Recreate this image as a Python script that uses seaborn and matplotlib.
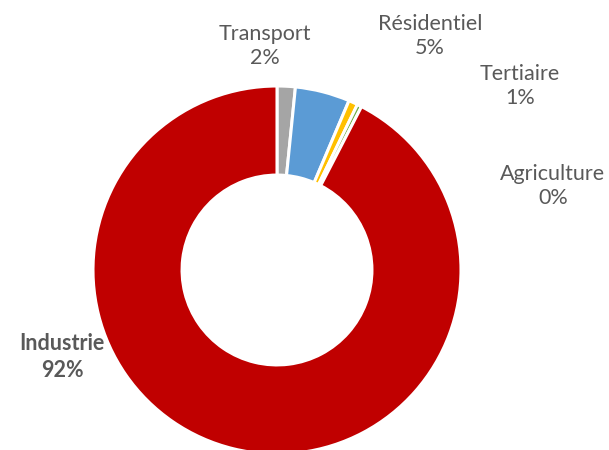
import matplotlib.pyplot as plt
import seaborn as sns

# data (share of total, %)
sectors = ["Transport", "Résidentiel", "Tertiaire", "Agriculture", "Industrie"]
shares = [1.6, 4.8, 0.8, 0.4, 92.4]
pct_labels = ["2%", "5%", "1%", "0%", "92%"]
colors = ["#A5A5A5", "#5B9BD5", "#FFC000", "#70AD47", "#C00000"]

# label anchor points in pixels of the 609x450 image (x, y from top)
label_px = [(265, 46), (430, 36), (520, 86), (553, 186), (62, 357)]

sns.set_theme(style="white")
plt.rcParams['font.family'] = ['Lato', 'DejaVu Sans']

W, H = 609, 450
cx, cy, R = 277, 270, 184

fig = plt.figure(figsize=(W / 100, H / 100), dpi=100)
ax = fig.add_axes([0, 0, 1, 1])

ax.pie(shares, colors=colors, startangle=90, counterclock=False,
       radius=1, wedgeprops=dict(width=0.484, edgecolor="white", linewidth=2.2))

for name, pct, (px, py) in zip(sectors, pct_labels, label_px):
    x = (px - cx) / R
    y = (cy - py) / R
    bold = name == "Industrie"
    ax.text(x, y, name + "\n" + pct, ha="center", va="center",
            fontsize=15.5, color="#595959", linespacing=1.3,
            fontweight="bold" if bold else "normal")

ax.set_xlim(-cx / R, (W - cx) / R)
ax.set_ylim(-(H - cy) / R, cy / R)
ax.set_aspect("equal")
ax.axis("off")

fig.savefig("out.png", dpi=100, facecolor="white")
